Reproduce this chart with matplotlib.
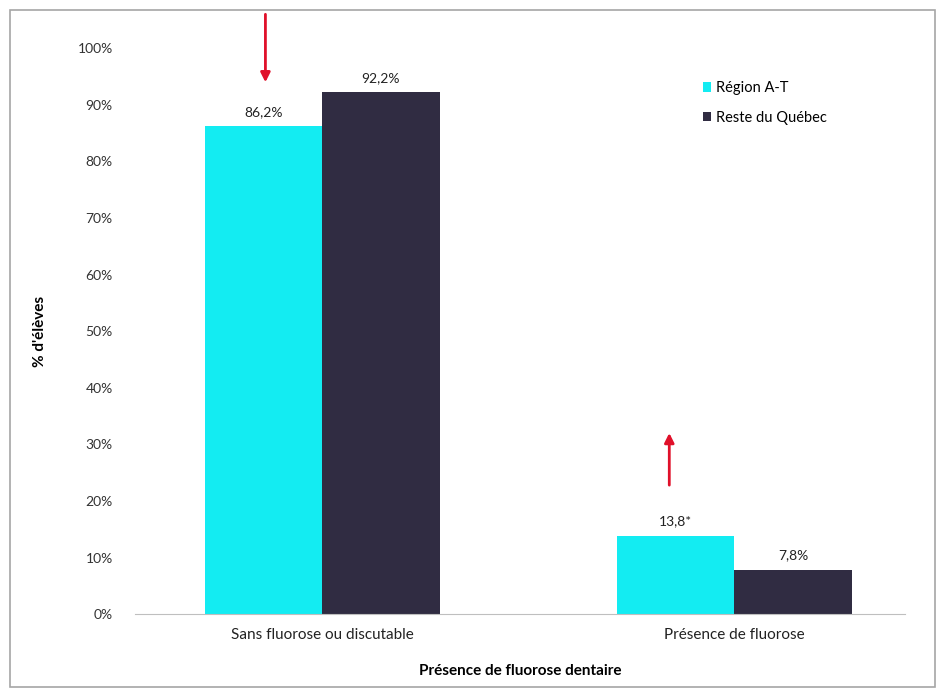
# Présence de fluorose dentaire : Région A-T vs reste du Québec
import matplotlib.pyplot as plt
import matplotlib.patches as patches
import numpy as np

categories = ["Sans fluorose ou discutable", "Présence de fluorose"]
region_at = [86.2, 13.8]
reste_qc = [92.2, 7.8]
labels_at = ["86,2%", "13,8*"]
labels_qc = ["92,2%", "7,8%"]
yticks = [0, 10, 20, 30, 40, 50, 60, 70, 80, 90, 100]

plt.rcParams['font.family'] = ['Lato', 'DejaVu Sans']

fig = plt.figure(figsize=(9.4, 6.9), dpi=100)
ax = fig.add_axes([0.1436, 0.110, 0.8194, 0.820])

x = np.arange(len(categories))
w = 0.285
b1 = ax.bar(x - w / 2, region_at, w, color="#13ecf2", label="Région A-T")
b2 = ax.bar(x + w / 2, reste_qc, w, color="#302c42", label="Reste du Québec")

for rect, txt in zip(b1, labels_at):
    ax.text(rect.get_x() + rect.get_width() / 2, rect.get_height() + 1.5, txt,
            ha="center", va="bottom", fontsize=10, color="#222222")
for rect, txt in zip(b2, labels_qc):
    ax.text(rect.get_x() + rect.get_width() / 2, rect.get_height() + 1.5, txt,
            ha="center", va="bottom", fontsize=10, color="#222222")

# flèches rouges
ax.annotate("", xy=(x[0] - w / 2 + 0.005, 93.5), xytext=(x[0] - w / 2 + 0.005, 106.5),
            arrowprops=dict(arrowstyle="-|>", color="#e0102a", lw=2, mutation_scale=14),
            annotation_clip=False)
ax.annotate("", xy=(x[1] - w / 2 - 0.015, 32.5), xytext=(x[1] - w / 2 - 0.015, 22.3),
            arrowprops=dict(arrowstyle="-|>", color="#e0102a", lw=2, mutation_scale=14),
            annotation_clip=False)

ax.set_xlim(-0.454, 1.415)
ax.set_ylim(0, 100)
ax.set_yticks(yticks)
ax.set_yticklabels([f"{t}%" for t in yticks], fontsize=10, color="#333333")
ax.set_xticks(x)
ax.set_xticklabels(categories, fontsize=11, color="#222222")
ax.tick_params(axis="y", length=0, pad=16)
ax.tick_params(axis="x", length=0, pad=10)

for s in ["top", "right", "left"]:
    ax.spines[s].set_visible(False)
ax.spines["bottom"].set_color("#bfbfbf")

ax.set_ylabel("% d'élèves", fontsize=11, fontweight="bold", labelpad=22)
ax.set_xlabel("Présence de fluorose dentaire", fontsize=11, fontweight="bold", labelpad=16)

ax.legend(loc="upper left", bbox_to_anchor=(0.72, 0.965), frameon=False, fontsize=10.5,
          handlelength=0.6, handleheight=0.6, handletextpad=0.3, labelspacing=1.05)

fig.patches.append(patches.Rectangle((10 / 940, 3 / 690), 925 / 940, 677 / 690,
                                     transform=fig.transFigure, fill=False,
                                     edgecolor="#a6a6a6", lw=1.2))

fig.savefig("out.png", dpi=100)
